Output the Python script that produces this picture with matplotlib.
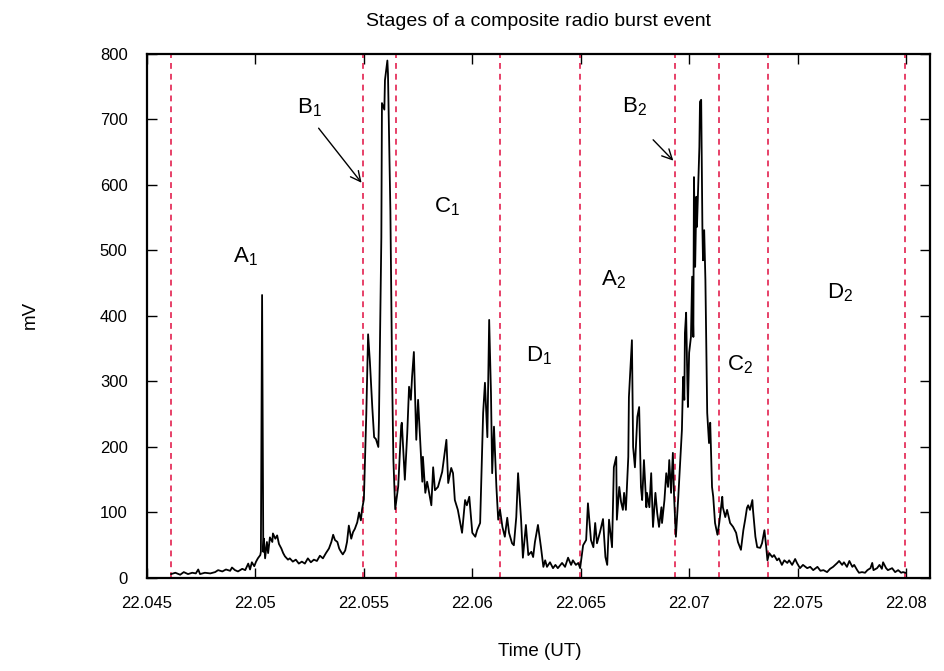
import matplotlib.pyplot as plt

plt.rcParams['font.family'] = ['Liberation Sans', 'DejaVu Sans']
plt.rcParams['mathtext.default'] = 'regular'

# time in seconds after 22:00:00 UT, signal in mV
t_sec = [
    166.0, 166.7, 167.5, 168.1, 168.8, 169.5, 170.1, 170.5, 170.8, 171.6,
    172.5, 173.3, 173.8, 174.5, 175.1, 175.8, 176.1, 176.6, 177.1, 177.8,
    178.3, 178.8, 179.1, 179.4, 179.8, 180.1, 180.4, 180.8, 180.9, 181.1,
    181.3, 181.4, 181.6, 181.9, 182.1, 182.4, 182.8, 182.9, 183.3, 183.6,
    183.9, 184.3, 184.6, 184.9, 185.4, 185.7, 186.2, 186.7, 187.2, 187.7,
    188.2, 188.7, 189.2, 189.7, 190.2, 190.7, 191.2, 191.7, 192.2, 192.6,
    192.9, 193.2, 193.6, 193.9, 194.2, 194.5, 194.9, 195.2, 195.5, 195.9,
    196.2, 196.5, 196.9, 197.2, 197.5, 197.7, 198.0, 198.4, 198.7, 199.0,
    199.4, 199.7, 200.0, 200.4, 200.5, 200.9, 201.0, 201.4, 201.5, 201.9,
    202.0, 202.4, 202.7, 202.9, 203.2, 203.7, 204.2, 204.3, 204.8, 205.2,
    205.5, 205.8, 206.0, 206.3, 206.7, 207.0, 207.7, 207.8, 208.2, 208.5,
    208.7, 209.2, 209.5, 209.8, 210.3, 211.0, 211.2, 211.7, 212.0, 212.5,
    212.8, 213.1, 213.6, 214.3, 214.8, 215.1, 215.5, 216.0, 216.5, 216.8,
    217.3, 217.8, 218.1, 218.5, 218.8, 219.1, 219.3, 219.6, 220.0, 220.3,
    220.6, 221.0, 221.4, 221.8, 222.1, 222.6, 222.9, 223.3, 223.6, 224.1,
    224.4, 224.9, 225.3, 225.8, 226.1, 226.4, 226.9, 227.4, 227.8, 228.1,
    228.4, 228.9, 229.4, 229.8, 230.2, 230.9, 231.4, 231.9, 232.4, 232.7,
    233.2, 233.6, 233.9, 234.4, 234.9, 235.2, 235.7, 236.1, 236.4, 236.7,
    237.2, 237.7, 238.1, 238.4, 238.7, 239.2, 239.5, 239.9, 240.0, 240.4,
    240.7, 241.0, 241.2, 241.5, 241.9, 242.0, 242.5, 242.7, 243.0, 243.4,
    243.7, 244.0, 244.2, 244.5, 244.9, 245.0, 245.4, 245.7, 246.0, 246.4,
    246.7, 247.0, 247.4, 247.5, 247.9, 248.2, 248.5, 248.7, 249.0, 249.3,
    249.5, 249.8, 250.2, 250.5, 250.8, 251.0, 251.2, 251.3, 251.5, 251.7,
    251.8, 252.0, 252.3, 252.5, 252.7, 252.8, 253.0, 253.2, 253.3, 253.7,
    253.8, 254.0, 254.2, 254.3, 254.5, 254.7, 255.0, 255.3, 255.5, 255.8,
    256.0, 256.3, 256.7, 257.0, 257.5, 257.6, 258.0, 258.3, 258.8, 259.3,
    259.8, 260.1, 260.6, 261.0, 261.3, 261.6, 261.8, 262.1, 262.5, 262.6,
    263.0, 263.3, 263.8, 264.1, 264.5, 264.8, 265.0, 265.3, 265.8, 266.1,
    266.6, 266.9, 267.4, 267.8, 268.3, 268.6, 269.1, 269.6, 269.9, 270.4,
    270.9, 271.6, 272.1, 272.6, 273.3, 273.8, 274.3, 274.9, 275.4, 275.9,
    276.6, 276.9, 277.4, 277.7, 278.2, 278.6, 279.1, 279.4, 279.9, 280.2,
    280.7, 281.2, 281.6, 282.1, 282.4, 282.6, 283.2, 283.6, 284.0, 284.2,
    284.7, 285.0, 285.7, 286.2, 286.7, 287.2, 287.5, 287.9,
]
mv = [
    6, 8, 5, 9, 6, 8, 7, 13, 6, 8,
    7, 9, 12, 10, 13, 11, 16, 12, 10, 14,
    12, 22, 13, 24, 18, 25, 30, 35, 40, 432,
    40, 60, 30, 55, 38, 62, 55, 68, 60, 65,
    52, 45, 38, 33, 28, 30, 25, 28, 22, 25,
    22, 30, 24, 28, 26, 34, 30, 38, 45, 55,
    66, 58, 55, 45, 40, 36, 42, 55, 80, 60,
    70, 75, 85, 100, 88, 105, 120, 250, 372, 330,
    260, 215, 212, 200, 240, 520, 725, 715, 760, 790,
    770, 560, 300, 180, 105, 140, 233, 237, 150, 221,
    292, 272, 307, 345, 211, 272, 147, 185, 130, 147,
    137, 111, 169, 134, 139, 162, 176, 211, 145, 168,
    160, 119, 104, 69, 119, 111, 124, 69, 63, 73,
    84, 252, 298, 215, 394, 282, 160, 231, 139, 89,
    104, 78, 63, 92, 69, 53, 50, 93, 160, 89,
    31, 81, 35, 40, 32, 55, 81, 47, 17, 27,
    17, 24, 15, 20, 15, 23, 17, 31, 20, 27,
    20, 23, 15, 50, 58, 114, 58, 47, 84, 53,
    70, 90, 32, 20, 89, 47, 169, 185, 89, 139,
    116, 104, 130, 104, 185, 276, 363, 200, 169, 246,
    261, 139, 119, 180, 108, 130, 108, 160, 78, 130,
    99, 78, 108, 84, 119, 160, 139, 180, 130, 191,
    124, 63, 124, 176, 226, 307, 272, 374, 405, 302,
    261, 344, 368, 460, 368, 612, 475, 582, 536, 658,
    727, 730, 536, 485, 531, 455, 252, 206, 237, 139,
    124, 84, 66, 84, 124, 108, 93, 104, 84, 78,
    69, 55, 43, 73, 89, 107, 111, 104, 119, 104,
    63, 47, 46, 53, 73, 47, 27, 38, 32, 35,
    27, 30, 20, 27, 23, 27, 20, 29, 23, 15,
    20, 15, 17, 12, 17, 11, 12, 9, 14, 17,
    23, 26, 20, 24, 17, 26, 17, 20, 12, 8,
    9, 8, 12, 15, 23, 12, 15, 20, 14, 24,
    15, 12, 15, 9, 12, 8, 9, 8,
]

# stage boundaries (seconds after 22:00 UT)
bounds_sec = [166.0, 197.9, 203.3, 220.6, 233.9, 249.7, 257.0, 265.1, 287.9]

stage_names = ['A$_1$', 'B$_1$', 'C$_1$', 'D$_1$', 'A$_2$', 'B$_2$', 'C$_2$', 'D$_2$']
stage_sec = [176.2, 186.9, 209.6, 224.9, 237.4, 240.8, 258.3, 274.9]
stage_mv = [490, 718, 567, 340, 455, 720, 325, 435]

xticks = [22.045, 22.05, 22.055, 22.06, 22.065, 22.07, 22.075, 22.08]
xtick_labels = ['22.045', '22.05', '22.055', '22.06', '22.065', '22.07', '22.075', '22.08']
yticks = [0, 100, 200, 300, 400, 500, 600, 700, 800]


def hrs(s):
    return 22 + s / 3600.0


hours = [hrs(s) for s in t_sec]

fig = plt.figure(figsize=(9.45, 6.71), dpi=100)
ax = fig.add_axes([0.1556, 0.1386, 0.8286, 0.781])

for b in bounds_sec:
    ax.axvline(hrs(b), color='#e3204f', lw=1.2, ls=(0, (3.5, 3)))

ax.plot(hours, mv, color='black', lw=1.3)

for name, s, v in zip(stage_names, stage_sec, stage_mv):
    ax.text(hrs(s), v, name, fontsize=16, ha='left', va='center')

# arrows pointing at the start of the B stages
ax.annotate('', xy=(hrs(bounds_sec[1]), 600), xytext=(hrs(190.2), 690),
            arrowprops=dict(arrowstyle='->', color='black', lw=1, mutation_scale=18))
ax.annotate('', xy=(hrs(bounds_sec[5]), 634), xytext=(hrs(245.7), 672),
            arrowprops=dict(arrowstyle='->', color='black', lw=1, mutation_scale=18))

ax.set_xlim(22.045, hrs(292.0))
ax.set_ylim(0, 800)
ax.set_xticks(xticks)
ax.set_xticklabels(xtick_labels)
ax.set_yticks(yticks)
ax.tick_params(direction='in', length=7, width=1, top=True, right=True, labelsize=12)
ax.tick_params(axis='x', pad=13)
ax.tick_params(axis='y', pad=14)
for sp in ax.spines.values():
    sp.set_linewidth(1.6)

fig.text(538 / 945, 1 - 22 / 671, 'Stages of a composite radio burst event',
         ha='center', va='center', fontsize=14)
fig.text(540 / 945, 1 - 652 / 671, 'Time (UT)', ha='center', va='center', fontsize=13.5)
fig.text(30 / 945, 1 - 315 / 671, 'mV', ha='center', va='center', fontsize=13.5, rotation=90)

fig.savefig('out.png', dpi=100)
